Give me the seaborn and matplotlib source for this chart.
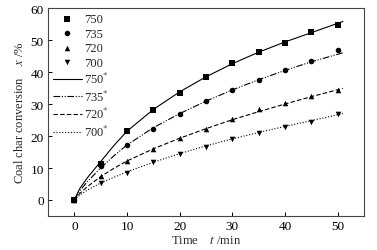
import numpy as np
import pandas as pd
import matplotlib
matplotlib.use("Agg")
import matplotlib.pyplot as plt
import seaborn as sns

# measured points
t = [0, 5, 10, 15, 20, 25, 30, 35, 40, 45, 50]
x750 = [0, 11.4, 21.6, 28.0, 33.5, 38.4, 42.7, 46.2, 49.1, 52.5, 54.8]
x735 = [0, 10.7, 17.2, 22.1, 27.0, 31.0, 34.4, 37.5, 40.5, 43.3, 46.8]
x720 = [0, 7.4, 12.2, 15.8, 19.5, 22.3, 25.2, 28.3, 30.3, 32.5, 34.5]
x700 = [0, 5.4, 8.5, 11.9, 14.5, 16.6, 19.2, 21.0, 22.8, 24.4, 26.8]

# model curves
tc = [0, 1, 2.5, 5, 7.5, 10, 15, 20, 25, 30, 35, 40, 45, 51]
c750 = [0, 3.5, 7.0, 12.0, 17.0, 21.5, 28.3, 33.8, 38.5, 42.6, 46.2, 49.4, 52.3, 55.8]
c735 = [0, 2.8, 5.8, 10.0, 13.8, 17.2, 22.6, 27.0, 30.9, 34.4, 37.6, 40.5, 43.2, 46.0]
c720 = [0, 2.0, 4.2, 7.3, 9.9, 12.2, 16.0, 19.3, 22.3, 25.1, 27.6, 30.0, 32.3, 34.9]
c700 = [0, 1.5, 3.1, 5.3, 7.1, 8.8, 11.8, 14.5, 16.9, 19.1, 21.1, 23.0, 24.8, 27.0]

labels = ["750", "735", "720", "700"]

sns.set_style("ticks")
plt.rcParams["font.family"] = ["Liberation Serif", "DejaVu Serif"]
plt.rcParams["mathtext.fontset"] = "stix"

fig = plt.figure(figsize=(3.77, 2.51), dpi=100)
ax = fig.add_axes([0.1273, 0.1355, 0.9655 - 0.1273, 0.964 - 0.1355])

markers = ["s", "o", "^", "v"]
for lab, ys, m in zip(labels, [x750, x735, x720, x700], markers):
    df = pd.DataFrame({"t": t, "x": ys})
    sns.scatterplot(data=df, x="t", y="x", marker=m, color="black", s=16,
                    edgecolor="black", linewidth=0, ax=ax, label=lab, zorder=3)

dashes = ["-", (0, (6, 1.5, 1, 1.5, 1, 1.5)), (0, (4, 2)), (0, (1, 1.6))]
for lab, ys, d in zip(labels, [c750, c735, c720, c700], dashes):
    df = pd.DataFrame({"t": tc, "x": ys})
    sns.lineplot(data=df, x="t", y="x", color="black", linewidth=0.8,
                 linestyle=d, ax=ax, label=lab + "$^{*}$")

ax.set_xlim(-5, 55)
ax.set_ylim(-5, 60)
ax.set_xticks([0, 10, 20, 30, 40, 50])
ax.set_yticks([0, 10, 20, 30, 40, 50, 60])
ax.tick_params(direction="in", length=3, width=0.7, labelsize=9.5, pad=3,
               colors="black")
for s in ax.spines.values():
    s.set_visible(True)
    s.set_linewidth(0.8)
    s.set_color("#444444")

ax.set_xlabel("Time    $t$ /min", fontsize=9, labelpad=1)
ax.set_ylabel("Coal char conversion    $x$ /%", fontsize=9, labelpad=3)

ax.legend(loc="upper left", frameon=False, fontsize=9, handlelength=2.3,
          handletextpad=0.2, labelspacing=0.2, borderaxespad=0.0,
          bbox_to_anchor=(0.0, 1.0))

fig.savefig("out.png", dpi=100)
